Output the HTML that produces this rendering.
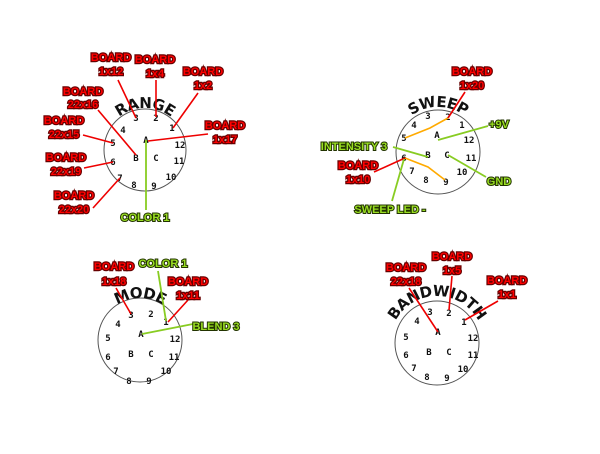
<!DOCTYPE html>
<html><head><meta charset="utf-8"><style>
html,body{margin:0;padding:0;background:#fff}
svg{display:block}
.p{font-family:"DejaVu Sans Mono","Liberation Mono",monospace;font-size:9px;font-weight:bold;fill:#111;text-anchor:middle}
.r{font-family:"Liberation Sans",sans-serif;font-weight:bold;font-size:11px;fill:#f00;stroke:#600;stroke-width:2.4;paint-order:stroke;text-anchor:middle}
.g{font-family:"Liberation Sans",sans-serif;font-weight:bold;font-size:11px;fill:#9d2;stroke:#230;stroke-width:2;paint-order:stroke;text-anchor:middle}
.t{font-family:"DejaVu Sans","Liberation Sans",sans-serif;font-size:15px;fill:#111;font-weight:bold;letter-spacing:-0.5px}
.c{fill:none;stroke:#555;stroke-width:1}
.lr{stroke:#e00;stroke-width:1.6}
.lg{stroke:#8c2;stroke-width:1.8}
.lo{stroke:#fa0;stroke-width:1.6;fill:none}
</style></head><body>
<svg width="600" height="454" viewBox="0 0 600 454" xmlns="http://www.w3.org/2000/svg">
<defs>
<path id="a1" d="M103,150 A42,42 0 0 1 187,150"/>
<path id="a2" d="M393,152 A45,45 0 0 1 483,152"/>
<path id="a3" d="M98,340 A42,42 0 0 1 182,340"/>
<path id="a4" d="M390,343 A47,47 0 0 1 484,343"/>
</defs>

<!-- RANGE -->
<circle class="c" cx="145" cy="150" r="41"/>
<text class="t"><textPath href="#a1" startOffset="50%" text-anchor="middle">RANGE</textPath></text>
<g class="p">
<text x="136" y="121">3</text><text x="156" y="121">2</text><text x="172" y="131">1</text>
<text x="123" y="133">4</text><text x="113" y="146">5</text><text x="180" y="148">12</text>
<text x="146" y="143">A</text><text x="113" y="165">6</text><text x="136" y="161">B</text>
<text x="156" y="161">C</text><text x="179" y="164">11</text><text x="120" y="181">7</text>
<text x="171" y="180">10</text><text x="134" y="188">8</text><text x="154" y="189">9</text>
</g>
<g class="lr">
<line x1="118" y1="80" x2="136" y2="118"/><line x1="156" y1="80" x2="156" y2="117"/>
<line x1="198" y1="93" x2="173" y2="128"/><line x1="98" y1="110" x2="136" y2="155"/>
<line x1="83" y1="135" x2="113" y2="143"/><line x1="84" y1="168" x2="113" y2="162"/>
<line x1="93" y1="208" x2="120" y2="178"/><line x1="208" y1="134" x2="148" y2="141"/>
</g>
<line class="lg" x1="146" y1="140" x2="146" y2="210"/>
<text class="r" x="111" y="61">BOARD</text><text class="r" x="111" y="75">1x12</text>
<text class="r" x="155" y="63">BOARD</text><text class="r" x="155" y="77">1x4</text>
<text class="r" x="203" y="75">BOARD</text><text class="r" x="203" y="89">1x2</text>
<text class="r" x="83" y="95">BOARD</text><text class="r" x="83" y="108">22x16</text>
<text class="r" x="64" y="124">BOARD</text><text class="r" x="64" y="138">22x15</text>
<text class="r" x="66" y="161">BOARD</text><text class="r" x="66" y="175">22x19</text>
<text class="r" x="225" y="129">BOARD</text><text class="r" x="225" y="143">1x17</text>
<text class="r" x="74" y="199">BOARD</text><text class="r" x="74" y="213">22x20</text>
<text class="g" x="145" y="221">COLOR 1</text>

<!-- SWEEP -->
<circle class="c" cx="438" cy="152" r="42"/>
<text class="t"><textPath href="#a2" startOffset="50%" text-anchor="middle">SWEEP</textPath></text>
<g class="p">
<text x="428" y="119">3</text><text x="448" y="120">2</text><text x="462" y="128">1</text>
<text x="414" y="128">4</text><text x="404" y="141">5</text><text x="469" y="143">12</text>
<text x="437" y="138">A</text><text x="404" y="161">6</text><text x="428" y="158">B</text>
<text x="447" y="158">C</text><text x="471" y="161">11</text><text x="412" y="174">7</text>
<text x="462" y="175">10</text><text x="426" y="183">8</text><text x="446" y="185">9</text>
</g>
<polyline class="lo" points="405,138 430,128 448,118"/>
<polyline class="lo" points="405,158 428,167 445,180"/>
<g class="lr">
<line x1="465" y1="92" x2="448" y2="118"/><line x1="374" y1="172" x2="405" y2="158"/>
</g>
<g class="lg">
<line x1="488" y1="126" x2="438" y2="140"/><line x1="393" y1="147" x2="428" y2="157"/>
<line x1="486" y1="177" x2="448" y2="155"/><line x1="392" y1="201" x2="404" y2="159"/>
</g>
<text class="r" x="472" y="75">BOARD</text><text class="r" x="472" y="89">1x20</text>
<text class="g" x="499" y="128">+9V</text>
<text class="g" x="354" y="150">INTENSITY 3</text>
<text class="g" x="499" y="185">GND</text>
<text class="r" x="358" y="169">BOARD</text><text class="r" x="358" y="183">1x10</text>
<text class="g" x="390" y="213">SWEEP LED -</text>

<!-- MODE -->
<circle class="c" cx="140" cy="340" r="42"/>
<text class="t"><textPath href="#a3" startOffset="50%" text-anchor="middle">MODE</textPath></text>
<g class="p">
<text x="131" y="318">3</text><text x="151" y="317">2</text><text x="166" y="325">1</text>
<text x="118" y="327">4</text><text x="108" y="341">5</text><text x="175" y="342">12</text>
<text x="141" y="337">A</text><text x="108" y="360">6</text><text x="131" y="357">B</text>
<text x="151" y="357">C</text><text x="174" y="360">11</text><text x="116" y="374">7</text>
<text x="166" y="374">10</text><text x="129" y="384">8</text><text x="149" y="384">9</text>
</g>
<g class="lr">
<line x1="116" y1="288" x2="131" y2="314"/><line x1="188" y1="300" x2="168" y2="322"/>
</g>
<g class="lg">
<line x1="158" y1="271" x2="166" y2="321"/><line x1="193" y1="324" x2="142" y2="334"/>
</g>
<text class="r" x="114" y="270">BOARD</text><text class="r" x="114" y="285">1x18</text>
<text class="g" x="163" y="267">COLOR 1</text>
<text class="r" x="188" y="285">BOARD</text><text class="r" x="188" y="299">1x11</text>
<text class="g" x="216" y="330">BLEND 3</text>

<!-- BANDWIDTH -->
<circle class="c" cx="437" cy="343" r="42"/>
<text class="t"><textPath href="#a4" startOffset="50%" text-anchor="middle">BANDWIDTH</textPath></text>
<g class="p">
<text x="430" y="315">3</text><text x="449" y="316">2</text><text x="464" y="325">1</text>
<text x="417" y="324">4</text><text x="406" y="340">5</text><text x="473" y="341">12</text>
<text x="438" y="335">A</text><text x="406" y="358">6</text><text x="429" y="355">B</text>
<text x="449" y="355">C</text><text x="473" y="358">11</text><text x="414" y="371">7</text>
<text x="463" y="372">10</text><text x="427" y="380">8</text><text x="447" y="381">9</text>
</g>
<g class="lr">
<line x1="409" y1="288" x2="438" y2="332"/><line x1="452" y1="276" x2="449" y2="310"/>
<line x1="498" y1="301" x2="465" y2="320"/>
</g>
<text class="r" x="406" y="271">BOARD</text><text class="r" x="406" y="285">22x18</text>
<text class="r" x="452" y="260">BOARD</text><text class="r" x="452" y="274">1x5</text>
<text class="r" x="507" y="284">BOARD</text><text class="r" x="507" y="298">1x1</text>
</svg>
</body></html>
